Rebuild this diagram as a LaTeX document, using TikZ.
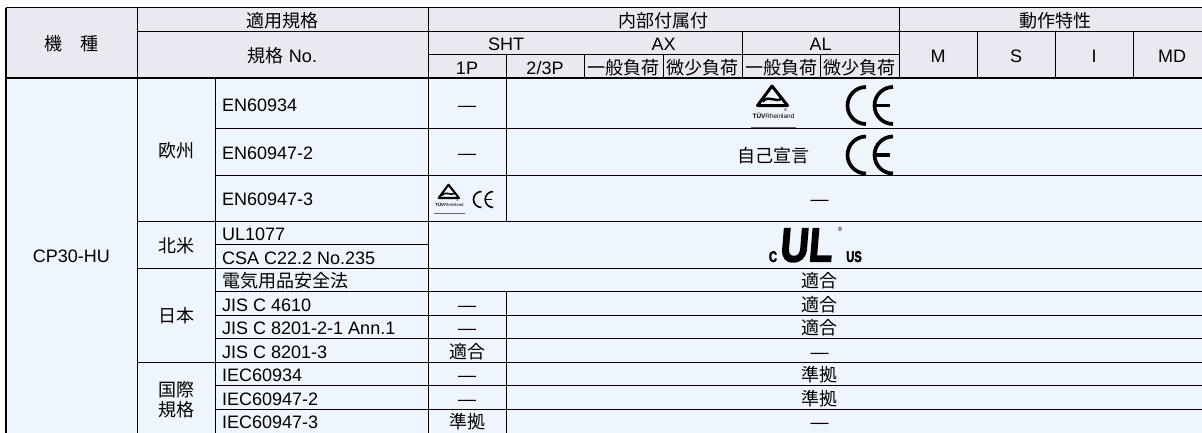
\documentclass[tikz,border=0pt]{standalone}
\usepackage{fontspec}
\setmainfont{Liberation Sans}
\newfontfamily\jp{Noto Sans CJK JP}
\newfontfamily\ulfont{Liberation Sans}[BoldFeatures={FakeBold=3}]
\usepackage{tikz}

\definecolor{headbg}{RGB}{236,232,242}
\definecolor{bodybg}{RGB}{238,245,252}

\tikzset{
  txt/.style={inner sep=0pt, text height=12.9pt, text depth=0pt, yshift=-1.5pt, font=\fontsize{18}{20}\selectfont},
  jtxt/.style={txt, font=\jp\fontsize{18}{20}\selectfont},
  item/.style={txt, anchor=west},
  jitem/.style={jtxt, anchor=west},
  rule/.style={line width=1pt, draw=black},
  frame/.style={line width=1.6pt, draw=black},
  ulletter/.style={inner sep=0pt, text height=11pt, text depth=0pt, xscale=0.72, font=\ulfont\bfseries\fontsize{15.5}{16}\selectfont},
  pics/cemark/.style={code={
    \draw[line width=0.2*#1] (0,-#1) .. controls (-0.5523*#1,-#1) and (-#1,-0.5523*#1) .. (-#1,0)
      .. controls (-#1,0.5523*#1) and (-0.5523*#1,#1) .. (0,#1);
    \draw[line width=0.2*#1] (1.46*#1,-#1) .. controls (0.9077*#1,-#1) and (0.46*#1,-0.5523*#1) .. (0.46*#1,0)
      .. controls (0.46*#1,0.5523*#1) and (0.9077*#1,#1) .. (1.46*#1,#1);
    \draw[line width=0.2*#1] (0.46*#1,0) -- (1.3*#1,0);
  }},
  pics/tuvmark/.style={code={
    \begin{scope}[scale=#1]
    \draw[line width=3*#1, line join=round] (-1.5,-21) -- (14,-1.5) -- (-16,-1.5) -- cycle;
    \draw[line width=2.4*#1] (-11,-5.5) .. controls (-3,-13) and (1,-3) .. (9,-9);
    \node[transform shape, inner sep=0pt, font=\fontsize{6.4}{7}\selectfont] (-name) at (0,9) {\textbf{TÜV}Rheinland};
    \node[transform shape, inner sep=0pt, font=\fontsize{4}{4}\selectfont] (-reg) at (12,3) {®};
    \draw[line width=1*#1, black!60] (-22.5,20.7) -- (22.5,20.7);
    \end{scope}
  }}
}

\begin{document}
\begin{tikzpicture}[x=1pt,y=-1pt]
\useasboundingbox (0,0) rectangle (1202,432);
\fill[headbg] (5.7,7.5) rectangle (1211,78);
\fill[bodybg] (5.7,78) rectangle (1211,440);

\draw[frame] (5.7,7.5) -- (1211,7.5);
\draw[frame] (5.7,7.5) -- (5.7,440);
\draw[rule] (137,31) -- (1211,31);
\draw[rule] (428,54.5) -- (899,54.5);
\draw[rule, line width=1.4pt] (5.7,78) -- (1211,78);
\foreach \y in {128.3,175,291.5,315,338.5,385.5,409}
  \draw[rule] (215.5,\y) -- (1211,\y);
\foreach \y in {221,268,362}
  \draw[rule] (137,\y) -- (1211,\y);
\draw[rule] (215.5,244.5) -- (428,244.5);
\draw[rule] (137,7.5) -- (137,440);
\draw[rule] (215.5,78) -- (215.5,440);
\draw[rule] (428,7.5) -- (428,440);
\draw[rule] (506,54.5) -- (506,221);
\draw[rule] (506,291.5) -- (506,440);
\foreach \x in {584,663,820}
  \draw[rule] (\x,54.5) -- (\x,78);
\draw[rule] (742,31) -- (742,78);
\draw[rule] (899,7.5) -- (899,78);
\foreach \x in {977,1055,1133}
  \draw[rule] (\x,31) -- (\x,78);

\node[jtxt] (kishu) at (71.3,42.7) {機　種};
\node[jtxt] (tekiyo) at (282.5,19.2) {適用規格};
\node[txt] (kikakuNo) at (282.5,54.5) {{\jp 規格} No.};
\node[jtxt] (naibu) at (663.5,19.2) {内部付属付};
\node[jtxt] (dosa) at (1055,19.2) {動作特性};
\node[txt] (sht) at (506,42.7) {SHT};
\node[txt] (ax) at (663.5,42.7) {AX};
\node[txt] (al) at (820.5,42.7) {AL};
\node[txt] (p1) at (467,66.2) {1P};
\node[txt] (p23) at (545,66.2) {2/3P};
\node[jtxt] (axgen) at (623.5,66.2) {一般負荷};
\node[jtxt] (axbi) at (702.5,66.2) {微少負荷};
\node[jtxt] (algen) at (781,66.2) {一般負荷};
\node[jtxt] (albi) at (859.5,66.2) {微少負荷};
\node[txt] (colM) at (938,54.5) {M};
\node[txt] (colS) at (1016,54.5) {S};
\node[txt] (colI) at (1094,54.5) {I};
\node[txt] (colMD) at (1172,54.5) {MD};

\node[txt] (model) at (71.3,255) {CP30-HU};
\node[jtxt] (eu) at (176.3,149.5) {欧州};
\node[jtxt] (na) at (176.3,244.5) {北米};
\node[jtxt] (japan) at (176.3,315) {日本};
\node[inner sep=0pt, align=center, font=\jp\fontsize{18}{20}\selectfont] (intl) at (176.3,399.5) {国際\\規格};

\node[item] (en1) at (222,103.2) {EN60934};
\node[item] (en2) at (222,151.7) {EN60947-2};
\node[item] (en3) at (222,198) {EN60947-3};
\node[item] (ul) at (222,232.7) {UL1077};
\node[item] (csa) at (222,256.3) {CSA C22.2 No.235};
\node[jitem] (denan) at (222,279.8) {電気用品安全法};
\node[item] (jis1) at (222,303.3) {JIS C 4610};
\node[item] (jis2) at (222,326.8) {JIS C 8201-2-1 Ann.1};
\node[item] (jis3) at (222,350.3) {JIS C 8201-3};
\node[item] (iec1) at (222,373.8) {IEC60934};
\node[item] (iec2) at (222,397.3) {IEC60947-2};
\node[item] (iec3) at (222,420.8) {IEC60947-3};

\node[txt] (en1p) at (467,103.2) {—};
\node[txt] (en2p) at (467,151.7) {—};
\pic (tuvS) at (449.5,199) {tuvmark=0.68};
\pic (ceS) at (481.5,199.5) {cemark=8};
\node[txt] (jis1p) at (467,303.3) {—};
\node[txt] (jis2p) at (467,326.8) {—};
\node[jtxt] (jis3p) at (467,350.3) {適合};
\node[txt] (iec1p) at (467,373.8) {—};
\node[txt] (iec2p) at (467,397.3) {—};
\node[jtxt] (iec3p) at (467,420.8) {準拠};

\pic (tuvL) at (773.5,107) {tuvmark=1};
\pic (ce1) at (866,105.5) {cemark=18.5};
\node[jtxt] (jiko) at (773.5,155) {自己宣言};
\pic (ce2) at (866,155) {cemark=18.5};
\node[txt] (en3v) at (819.5,198) {—};
\node[ulletter] (ulc) at (773,256.5) {C};
\node[inner sep=0pt, text height=34pt, text depth=0pt, xscale=0.82, xslant=0.1, font=\ulfont\bfseries\fontsize{48}{48}\selectfont] (ullogo) at (807,244.5) {UL};
\node[ulletter] (ulus) at (854,256.5) {US};
\node[inner sep=0pt, font=\fontsize{6}{6}\selectfont] (ulreg) at (840,229) {®};
\node[jtxt] (denanv) at (819.5,279.8) {適合};
\node[jtxt] (jis1v) at (819.5,303.3) {適合};
\node[jtxt] (jis2v) at (819.5,326.8) {適合};
\node[txt] (jis3v) at (819.5,350.3) {—};
\node[jtxt] (iec1v) at (819.5,373.8) {準拠};
\node[jtxt] (iec2v) at (819.5,397.3) {準拠};
\node[txt] (iec3v) at (819.5,420.8) {—};
\end{tikzpicture}
\end{document}
